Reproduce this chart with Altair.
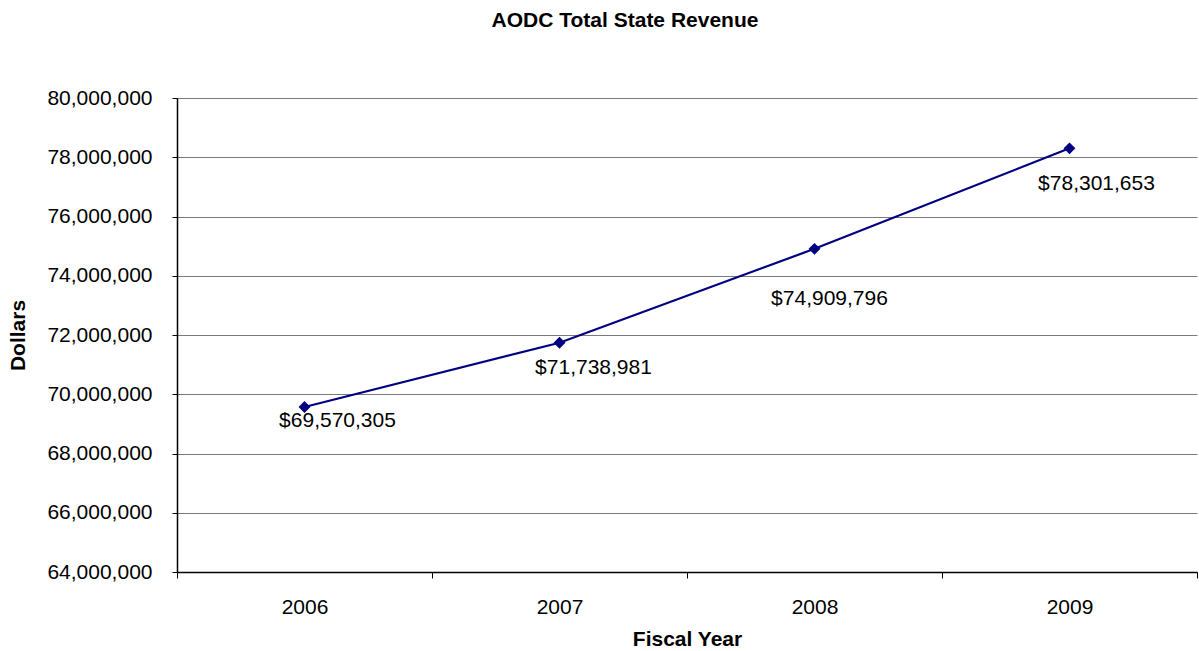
import altair as alt
import pandas as pd

years = ["2006", "2007", "2008", "2009"]
revenue = [69570305, 71738981, 74909796, 78301653]
labels = ["$69,570,305", "$71,738,981", "$74,909,796", "$78,301,653"]
y_ticks = [64000000, 66000000, 68000000, 70000000, 72000000, 74000000, 76000000, 78000000, 80000000]

df = pd.DataFrame({"year": years, "revenue": revenue, "label": labels})

FONT = "Liberation Sans"
NAVY = "#000080"

x_enc = alt.X("year:O", title="Fiscal Year",
              scale=alt.Scale(type="band", paddingInner=0, paddingOuter=0),
              axis=alt.Axis(labelAngle=0, tickBand="extent", grid=False,
                            tickSize=6, labelPadding=18, titlePadding=11,
                            domainColor="black", tickColor="black", domainWidth=1.5))
y_enc = alt.Y("revenue:Q", title="Dollars",
              scale=alt.Scale(domain=[64000000, 80000000], nice=False, zero=False),
              axis=alt.Axis(values=y_ticks, format=",d", tickSize=5, labelPadding=20,
                            titlePadding=18, gridColor="#7a7a7a", gridWidth=1.2,
                            domainColor="black", tickColor="black", domainWidth=1.5))

base = alt.Chart(df)

line = base.mark_line(color=NAVY, strokeWidth=2.2).encode(x=x_enc, y=y_enc)
pts = base.mark_point(shape="diamond", filled=True, color=NAVY, size=140, opacity=1).encode(x=x_enc, y=y_enc)

label_offsets = {"2006": (33, 14), "2007": (34, 25), "2008": (15, 50), "2009": (27, 36)}
texts = []
for yr, (dx, dy) in label_offsets.items():
    texts.append(
        base.transform_filter(alt.datum.year == yr)
        .mark_text(font=FONT, fontSize=21, color="black", dx=dx, dy=dy,
                   align="center", baseline="middle")
        .encode(x=x_enc, y=y_enc, text="label:N")
    )

chart = alt.layer(line, pts, *texts).properties(
    width=1020, height=474,
    title=alt.TitleParams("AODC Total State Revenue", font=FONT, fontSize=21,
                          fontWeight="bold", anchor="middle", dx=-62, offset=56,
                          color="black"),
    autosize=alt.AutoSizeParams(type="none"),
    padding={"left": 177, "top": 98, "right": 2, "bottom": 79},
).configure_view(stroke=None).configure_axis(
    labelFont=FONT, labelFontSize=21, labelColor="black",
    titleFont=FONT, titleFontSize=21, titleFontWeight="bold", titleColor="black",
)

chart.save("out.html", embed_options={"renderer": "svg", "actions": False})
